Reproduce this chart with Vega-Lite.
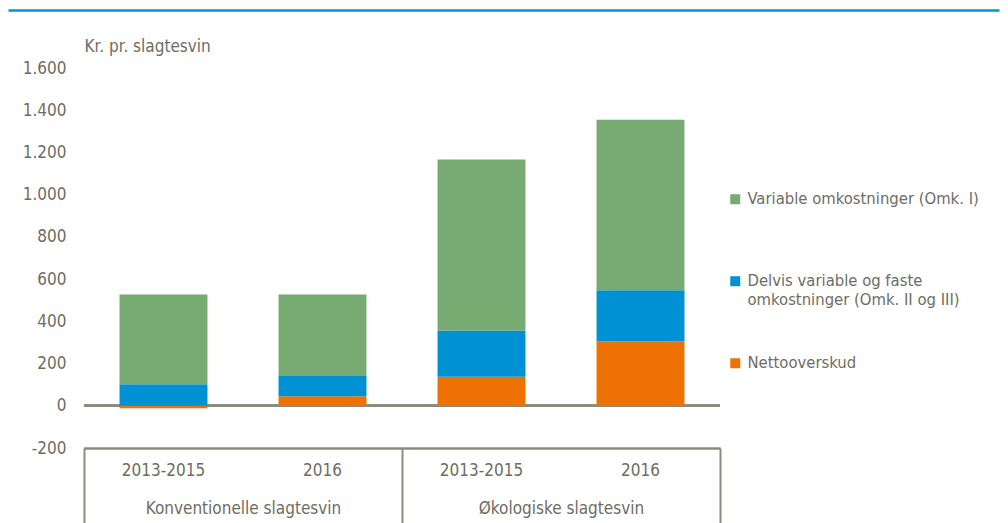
{
  "$schema": "https://vega.github.io/schema/vega-lite/v6.json",
  "padding": {"left": 8, "top": 10, "right": 0, "bottom": 0},
  "spacing": 25,
  "config": {
    "font": "DejaVu Sans Condensed, Liberation Sans, sans-serif",
    "view": {"stroke": null},
    "axis": {
      "labelFont": "DejaVu Sans Condensed, Liberation Sans, sans-serif",
      "labelFontSize": 17,
      "labelColor": "#6e6d62",
      "titleFont": "DejaVu Sans Condensed, Liberation Sans, sans-serif",
      "titleFontSize": 17,
      "titleColor": "#6e6d62",
      "titleFontWeight": "normal"
    },
    "legend": {
      "labelFont": "DejaVu Sans Condensed, Liberation Sans, sans-serif",
      "labelFontSize": 16.5,
      "labelColor": "#6e6d62"
    }
  },
  "vconcat": [
    {
      "width": 991,
      "height": 2,
      "data": {"values": [{}]},
      "mark": {"type": "rule", "opacity": 0},
      "encoding": {
        "x": {
          "datum": 0.5,
          "type": "quantitative",
          "scale": {"domain": [0, 1]},
          "axis": {
            "orient": "top",
            "position": -76,
            "labels": false,
            "ticks": false,
            "grid": false,
            "title": null,
            "domainColor": "#0096d6",
            "domainWidth": 2.5
          }
        }
      }
    },
    {
      "width": 636,
      "height": 380,
      "data": {
        "values": [
          {"group": "Konventionelle slagtesvin", "period": "2013-2015", "key": "Konventionelle slagtesvin|2013-2015", "cost": "Nettooverskud", "rank": 1, "value": -12},
          {"group": "Konventionelle slagtesvin", "period": "2013-2015", "key": "Konventionelle slagtesvin|2013-2015", "cost": "Delvis variable og faste omkostninger (Omk. II og III)", "rank": 2, "value": 102},
          {"group": "Konventionelle slagtesvin", "period": "2013-2015", "key": "Konventionelle slagtesvin|2013-2015", "cost": "Variable omkostninger (Omk. I)", "rank": 3, "value": 425},
          {"group": "Konventionelle slagtesvin", "period": "2016", "key": "Konventionelle slagtesvin|2016", "cost": "Nettooverskud", "rank": 1, "value": 45},
          {"group": "Konventionelle slagtesvin", "period": "2016", "key": "Konventionelle slagtesvin|2016", "cost": "Delvis variable og faste omkostninger (Omk. II og III)", "rank": 2, "value": 100},
          {"group": "Konventionelle slagtesvin", "period": "2016", "key": "Konventionelle slagtesvin|2016", "cost": "Variable omkostninger (Omk. I)", "rank": 3, "value": 382},
          {"group": "Økologiske slagtesvin", "period": "2013-2015", "key": "Økologiske slagtesvin|2013-2015", "cost": "Nettooverskud", "rank": 1, "value": 138},
          {"group": "Økologiske slagtesvin", "period": "2013-2015", "key": "Økologiske slagtesvin|2013-2015", "cost": "Delvis variable og faste omkostninger (Omk. II og III)", "rank": 2, "value": 219},
          {"group": "Økologiske slagtesvin", "period": "2013-2015", "key": "Økologiske slagtesvin|2013-2015", "cost": "Variable omkostninger (Omk. I)", "rank": 3, "value": 810},
          {"group": "Økologiske slagtesvin", "period": "2016", "key": "Økologiske slagtesvin|2016", "cost": "Nettooverskud", "rank": 1, "value": 305},
          {"group": "Økologiske slagtesvin", "period": "2016", "key": "Økologiske slagtesvin|2016", "cost": "Delvis variable og faste omkostninger (Omk. II og III)", "rank": 2, "value": 242},
          {"group": "Økologiske slagtesvin", "period": "2016", "key": "Økologiske slagtesvin|2016", "cost": "Variable omkostninger (Omk. I)", "rank": 3, "value": 808}
        ]
      },
      "layer": [
        {
          "mark": {"type": "rule", "opacity": 0},
          "encoding": {
            "x": {
              "field": "group",
              "type": "nominal",
              "sort": null,
              "scale": {"paddingInner": 0, "paddingOuter": 0},
              "axis": {
                "orient": "bottom",
                "title": null,
                "labelAngle": 0,
                "labelLimit": 400,
                "tickBand": "extent",
                "tickSize": 76,
                "tickColor": "#8b8a80",
                "tickWidth": 2,
                "domainColor": "#8b8a80",
                "domainWidth": 2,
                "labelPadding": -24,
                "grid": false
              }
            }
          }
        },
        {
          "mark": {"type": "rule", "color": "#8b8a80", "strokeWidth": 2},
          "encoding": {"y": {"datum": 0, "type": "quantitative"}}
        },
        {
          "mark": {"type": "bar"},
          "encoding": {
            "x": {
              "field": "key",
              "type": "nominal",
              "sort": null,
              "scale": {"paddingInner": 0.447, "paddingOuter": 0.2235},
              "axis": {
                "orient": "bottom",
                "title": null,
                "labelExpr": "split(datum.label, '|')[1]",
                "labelAngle": 0,
                "ticks": false,
                "domain": true,
                "domainColor": "#8b8a80",
                "domainWidth": 2,
                "labelPadding": 14,
                "grid": false
              }
            },
            "y": {
              "field": "value",
              "type": "quantitative",
              "stack": "zero",
              "scale": {"domain": [-200, 1600], "nice": false},
              "axis": {
                "title": "Kr. pr. slagtesvin",
                "titleAngle": 0,
                "titleAlign": "left",
                "titleBaseline": "middle",
                "titleX": 0,
                "titleY": -22,
                "values": [-200, 0, 200, 400, 600, 800, 1000, 1200, 1400, 1600],
                "labelExpr": "replace(replace(format(datum.value, ','), ',', '.'), '\u2212', '-')",
                "ticks": false,
                "domain": false,
                "labelPadding": 18,
                "gridColor": "#d6d5cc",
                "gridWidth": 1.5,
                "minExtent": 76,
                "maxExtent": 76
              }
            },
            "color": {
              "field": "cost",
              "type": "nominal",
              "scale": {
                "domain": ["Variable omkostninger (Omk. I)", "Delvis variable og faste omkostninger (Omk. II og III)", "Nettooverskud"],
                "range": ["#77ab71", "#0090d4", "#ed7203"]
              },
              "legend": {
                "title": null,
                "orient": "none",
                "legendX": 643,
                "legendY": 181,
                "padding": 0,
                "symbolType": "square",
                "symbolSize": 100,
                "symbolStrokeWidth": 0,
                "labelOffset": 4,
                "labelLimit": 400,
                "rowPadding": 46,
                "labelExpr": "datum.label == 'Delvis variable og faste omkostninger (Omk. II og III)' ? ['Delvis variable og faste', 'omkostninger (Omk. II og III)'] : datum.label == 'Variable omkostninger (Omk. I)' ? ['Variable omkostninger (Omk. I)', ' '] : datum.label"
              }
            },
            "order": {"field": "rank", "type": "quantitative"}
          }
        }
      ],
      "resolve": {"scale": {"x": "independent"}, "axis": {"x": "independent"}}
    }
  ]
}
